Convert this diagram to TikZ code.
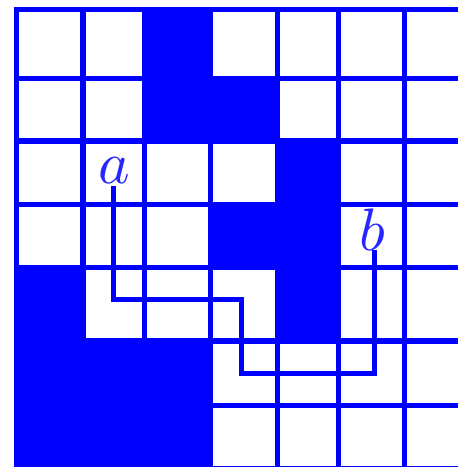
\documentclass[tikz,border=0pt]{standalone}
\usepackage{graphicx}
\begin{document}
\begin{tikzpicture}[x=1pt,y=-1pt,
  gridline/.style={draw=blue,line width=5.5pt},
  cellfill/.style={fill=blue},
  route/.style={draw=blue,line width=5pt,line join=miter},
  letter/.style={text=blue!85,inner sep=0pt}]
\useasboundingbox (0,0) rectangle (458,467);
\clip (0,0) rectangle (458,467);
\def\xs{{16.5,83,144.5,210.5,277.5,338.5,404.5,469}}
\def\ys{{9.7,78.5,141,204.5,267.7,341,405.5,469}}
% filled cells (col,row)
\foreach \c/\r in {2/0,2/1,3/1,4/2,3/3,4/3,0/4,4/4,0/5,1/5,2/5,0/6,1/6,2/6}{
  \pgfmathsetmacro\xa{\xs[\c]-2.75}
  \pgfmathsetmacro\xb{\xs[\c+1]+2.75}
  \pgfmathsetmacro\ya{\ys[\r]-2.75}
  \pgfmathsetmacro\yb{\ys[\r+1]+2.75}
  \path[cellfill] (\xa,\ya) rectangle (\xb,\yb);
}
% grid lines
\foreach \i in {0,...,7}{
  \pgfmathsetmacro\xx{\xs[\i]}
  \pgfmathsetmacro\yy{\ys[\i]}
  \draw[gridline,line cap=rect] (\xx,9.7) -- (\xx,469);
  \draw[gridline,line cap=rect] (16.5,\yy) -- (469,\yy);
}
% letters
\node[letter] (a) at (114,171) {\scalebox{6}{$a$}};
\node[letter] (b) at (372,230) {\scalebox{6}{$b$}};
\coordinate (ta) at (113.5,186);
\coordinate (p1) at (241.5,299);
\coordinate (p2) at (374,373);
\coordinate (tb) at (374,250);
\draw[route] (ta) |- (p1) |- (p2) -- (tb);
\end{tikzpicture}
\end{document}
